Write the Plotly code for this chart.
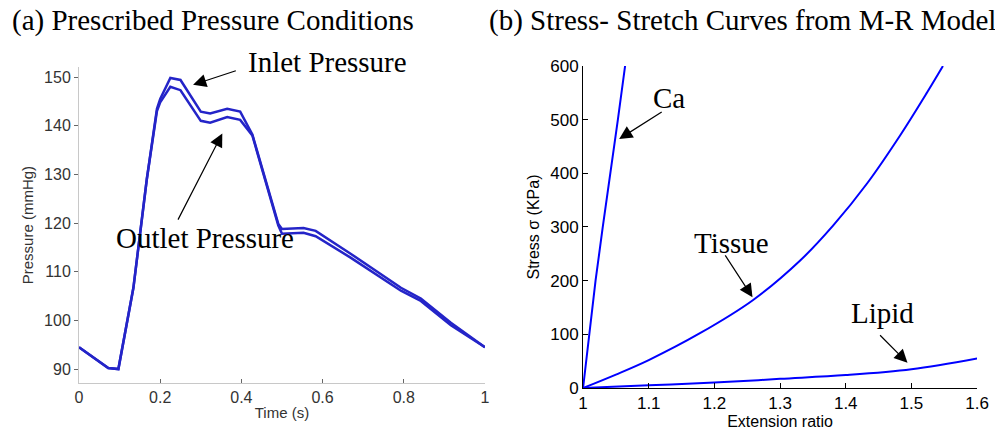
import plotly.graph_objects as go

# ---- Panel (a) data ----
time_s = [0, 0.072, 0.097, 0.134, 0.167, 0.192, 0.2, 0.225, 0.25, 0.3, 0.323, 0.365,
          0.397, 0.427, 0.491, 0.5, 0.553, 0.583, 0.669, 0.793, 0.842, 0.916, 1.0]
inlet_p = [94.5, 90.2, 90.0, 106.7, 129, 143.5, 145.5, 149.8, 149.4, 142.9, 142.5, 143.5,
           142.9, 138.2, 119.8, 118.8, 119.0, 118.4, 113.7, 106.7, 104.5, 99.5, 94.5]
outlet_p = [94.5, 90.2, 90.0, 106.7, 129, 143.0, 144.8, 148.0, 147.3, 141.0, 140.6, 141.8,
            141.2, 138.0, 119.5, 117.8, 118.0, 117.3, 112.9, 106.1, 104.0, 99.0, 94.5]
a_xticks = [0, 0.2, 0.4, 0.6, 0.8, 1]
a_xlabels = ["0", "0.2", "0.4", "0.6", "0.8", "1"]
a_yticks = [90, 100, 110, 120, 130, 140, 150]

# ---- Panel (b) data ----
ca_x = [1.0, 1.009, 1.019, 1.03, 1.042, 1.053, 1.064]
ca_y = [0, 100, 200, 300, 400, 500, 600]
tissue_x = [1.0, 1.05, 1.1, 1.178, 1.259, 1.331, 1.381, 1.433, 1.483, 1.524, 1.548]
tissue_y = [0, 25, 52, 102, 164, 238, 303, 382, 471, 551, 600]
lipid_x = [1.0, 1.1, 1.2, 1.3, 1.4, 1.5, 1.6]
lipid_y = [0, 5, 10, 17, 24, 35, 55]
b_xticks = [1, 1.1, 1.2, 1.3, 1.4, 1.5, 1.6]
b_xlabels = ["1", "1.1", "1.2", "1.3", "1.4", "1.5", "1.6"]
b_yticks = [0, 100, 200, 300, 400, 500, 600]

fig = go.Figure()
blue_a = "#2424c8"
fig.add_trace(go.Scatter(x=time_s, y=inlet_p, mode="lines", line=dict(color=blue_a, width=2.5),
                         xaxis="x", yaxis="y", showlegend=False))
fig.add_trace(go.Scatter(x=time_s, y=outlet_p, mode="lines", line=dict(color=blue_a, width=2.5),
                         xaxis="x", yaxis="y", showlegend=False))
fig.add_trace(go.Scatter(x=ca_x, y=ca_y, mode="lines", line=dict(color="#0000ff", width=2),
                         xaxis="x2", yaxis="y2", showlegend=False))
for xs, ys in [(tissue_x, tissue_y), (lipid_x, lipid_y)]:
    fig.add_trace(go.Scatter(x=xs, y=ys, mode="lines", line=dict(color="#0000ff", width=2, shape="spline"),
                             xaxis="x2", yaxis="y2", showlegend=False))

tickfont_a = dict(family="Liberation Sans", size=16, color="#333333")
tickfont_b = dict(family="Liberation Sans", size=17, color="#000000")
serif = dict(family="Liberation Serif", size=29, color="#000000")

fig.update_layout(
    width=995, height=433, margin=dict(l=0, r=0, t=0, b=0, autoexpand=False),
    paper_bgcolor="white", plot_bgcolor="white",
    xaxis=dict(domain=[0.0794, 0.4874], range=[0, 1], tickvals=a_xticks, ticktext=a_xlabels,
               showgrid=False, zeroline=False, showline=True, linecolor="#c8c8c8", linewidth=1,
               ticks="inside", ticklen=4, tickcolor="#666666", tickfont=tickfont_a, automargin=False,
               title=dict(text="Time (s)", font=dict(family="Liberation Sans", size=15, color="#333333"), standoff=2),
               anchor="y"),
    yaxis=dict(domain=[0.1155, 0.845], range=[87.14, 152.04], tickvals=a_yticks,
               showgrid=False, zeroline=False, showline=True, linecolor="#c8c8c8", linewidth=1,
               ticks="outside", ticklen=4, tickcolor="#666666", tickfont=tickfont_a, automargin=False,
               title=dict(text="Pressure (mmHg)", font=dict(family="Liberation Sans", size=15, color="#333333"), standoff=6),
               anchor="x"),
    xaxis2=dict(domain=[0.586, 0.982], range=[1, 1.6], tickvals=b_xticks, ticktext=b_xlabels,
                showgrid=False, zeroline=False, showline=True, linecolor="#000000", linewidth=1,
                ticks="inside", ticklen=5, tickcolor="#000000", tickfont=tickfont_b, automargin=False,
                title=dict(text="Extension ratio", font=dict(family="Liberation Sans", size=16, color="#000000"), standoff=0),
                anchor="y2"),
    yaxis2=dict(domain=[0.104, 0.8476], range=[0, 600], tickvals=b_yticks,
                showgrid=False, zeroline=False, showline=True, linecolor="#000000", linewidth=1,
                ticks="inside", ticklen=5, tickcolor="#000000", tickfont=tickfont_b, automargin=False,
                title=dict(text="Stress σ (KPa)", font=dict(family="Liberation Sans", size=16, color="#000000"), standoff=6),
                anchor="x2"),
)

anns = [
    dict(text="(a) Prescribed Pressure Conditions", xref="paper", yref="paper", x=10 / 995, y=1 - 20 / 433,
         xanchor="left", yanchor="middle", showarrow=False, font=serif),
    dict(text="(b) Stress- Stretch Curves from M-R Model", xref="paper", yref="paper", x=487 / 995, y=1 - 20 / 433,
         xanchor="left", yanchor="middle", showarrow=False, font=serif),
    dict(text="Inlet Pressure", xref="paper", yref="paper", x=327 / 995, y=1 - 62 / 433,
         xanchor="center", yanchor="middle", showarrow=False, font=serif),
    dict(text="Outlet Pressure", xref="x", yref="y", x=0.311, y=116.9,
         xanchor="center", yanchor="middle", showarrow=False, font=serif),
    dict(text="Ca", xref="x2", yref="y2", x=1.131, y=540, xanchor="center", yanchor="middle",
         showarrow=False, font=serif),
    dict(text="Tissue", xref="x2", yref="y2", x=1.226, y=270, xanchor="center", yanchor="middle",
         showarrow=False, font=serif),
    dict(text="Lipid", xref="x2", yref="y2", x=1.456, y=140, xanchor="center", yanchor="middle",
         showarrow=False, font=serif),
]
arrows = [
    ("x", "y", 0.281, 148.4, 0.390, 151.4),
    ("x", "y", 0.353, 138.4, 0.242, 120.4),
    ("x2", "y2", 1.055, 464, 1.122, 516),
    ("x2", "y2", 1.258, 169, 1.215, 250),
    ("x2", "y2", 1.494, 47, 1.450, 101),
]
for xr, yr, hx, hy, tx, ty in arrows:
    anns.append(dict(text="", xref=xr, yref=yr, x=hx, y=hy, axref=xr, ayref=yr, ax=tx, ay=ty,
                     showarrow=True, arrowhead=2, arrowsize=2.2, arrowwidth=1.2, arrowcolor="#000000"))
fig.update_layout(annotations=anns)

fig.write_html("out.html")
